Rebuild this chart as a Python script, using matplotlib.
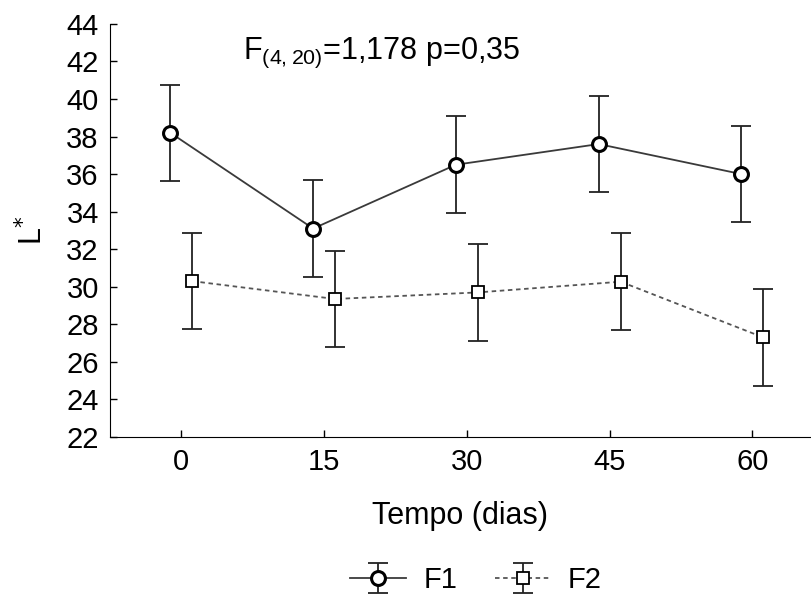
import numpy as np
import matplotlib
matplotlib.use("Agg")
import matplotlib.pyplot as plt

plt.rcParams['font.family'] = ['Liberation Sans', 'DejaVu Sans']

# donnees
dias = ["0", "15", "30", "45", "60"]
f1 = [38.2, 33.1, 36.5, 37.6, 36.0]
f2 = [30.3, 29.35, 29.7, 30.27, 27.3]
erro = [2.57, 2.57, 2.57, 2.57, 2.57]

x = np.arange(len(dias))
dx = 0.077

fig = plt.figure(figsize=(8.11, 5.97), dpi=100)
ax = fig.add_axes([0.1356, 0.268, 0.8644, 0.692])

e1 = ax.errorbar(x - dx, f1, yerr=erro, color="#3a3a3a", lw=1.3,
                 marker="o", ms=10, mfc="white", mec="black", mew=2.2,
                 ecolor="#222222", elinewidth=1.3, capsize=7, capthick=1.3,
                 label="F1")
e2 = ax.errorbar(x + dx, f2, yerr=erro, color="#555555", lw=1.3, ls=(0, (2.5, 2)),
                 marker="s", ms=9, mfc="white", mec="black", mew=1.3,
                 ecolor="#222222", elinewidth=1.3, capsize=7, capthick=1.3,
                 label="F2")
for cap in e1[1]:
    cap.set_markeredgewidth(1.3)

ax.set_xlim(-0.5, 4.41)
ax.set_ylim(22, 44)
ax.set_yticks(np.arange(22, 45, 2))
ax.set_xticks(x)
ax.set_xticklabels(dias)
ax.tick_params(direction="in", length=5, width=1, labelsize=21, pad=8)
ax.spines["top"].set_visible(False)
ax.spines["right"].set_visible(False)

ax.set_xlabel("Tempo (dias)", fontsize=22, labelpad=18)
ax.set_ylabel("L$^{*}$", fontsize=22, labelpad=12)

ax.text(0.19, 0.93, "F$_{\\mathregular{(4, 20)}}$=1,178 p=0,35", transform=ax.transAxes,
        fontsize=22, ha="left", va="center")

fig.legend(handles=[e1, e2], loc="center", bbox_to_anchor=(0.587, 0.028),
           ncol=2, frameon=False, fontsize=21, handlelength=1.9,
           columnspacing=1.3, handletextpad=0.6)

plt.savefig("out.png", dpi=100)
